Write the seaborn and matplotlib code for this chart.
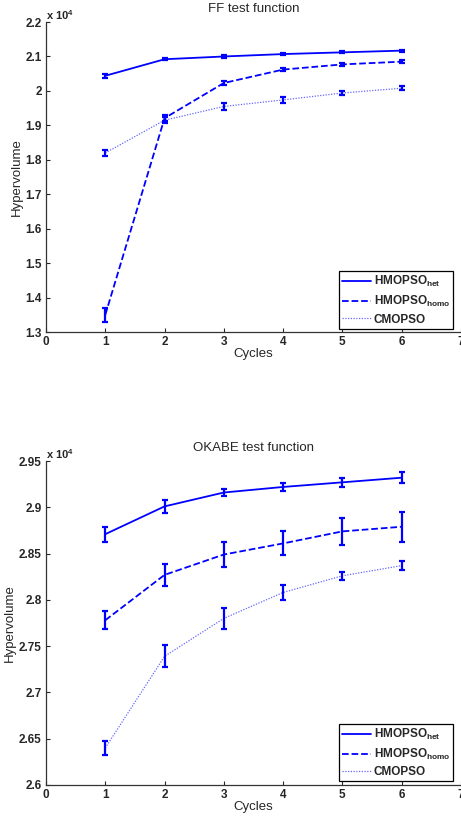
import numpy as np
import pandas as pd
import matplotlib
matplotlib.use("Agg")
import matplotlib.pyplot as plt
import seaborn as sns
from matplotlib.ticker import FuncFormatter

# Data (hypervolume, in units of 10^4)
cycles = [1, 2, 3, 4, 5, 6]
series_names = ["HMOPSO$_{het}$", "HMOPSO$_{homo}$", "CMOPSO"]

ff_het = [2.044, 2.092, 2.100, 2.107, 2.112, 2.117]
ff_het_err = [0.006, 0.003, 0.003, 0.003, 0.003, 0.003]
ff_homo = [1.350, 1.921, 2.023, 2.062, 2.077, 2.085]
ff_homo_err = [0.020, 0.008, 0.006, 0.005, 0.005, 0.005]
ff_cmopso = [1.820, 1.915, 1.955, 1.974, 1.994, 2.008]
ff_cmopso_err = [0.008, 0.008, 0.010, 0.008, 0.007, 0.006]

ok_het = [2.871, 2.901, 2.916, 2.922, 2.927, 2.932]
ok_het_err = [0.008, 0.007, 0.004, 0.004, 0.005, 0.006]
ok_homo = [2.778, 2.827, 2.849, 2.861, 2.874, 2.879]
ok_homo_err = [0.010, 0.012, 0.014, 0.013, 0.015, 0.016]
ok_cmopso = [2.640, 2.739, 2.780, 2.808, 2.826, 2.837]
ok_cmopso_err = [0.008, 0.012, 0.011, 0.008, 0.004, 0.005]

sns.set_style("ticks")
plt.rcParams['font.family'] = ['Liberation Sans', 'DejaVu Sans']
plt.rcParams['mathtext.default'] = 'regular'

styles = ['-', '--', (0, (1, 1.2))]
widths = [1.3, 1.3, 0.9]
alphas = [1.0, 1.0, 0.6]


def make_df(means, errs):
    rows = []
    for name, m, e in zip(series_names, means, errs):
        for c, v, er in zip(cycles, m, e):
            rows.append({'Cycles': c, 'Hypervolume': v, 'err': er, 'series': name})
    return pd.DataFrame(rows)


def draw_panel(ax, df, title, ylim, yticks):
    for i, name in enumerate(series_names):
        d = df[df['series'] == name]
        sns.lineplot(data=d, x='Cycles', y='Hypervolume', ax=ax, color='#0000ff',
                     linestyle=styles[i], linewidth=widths[i], alpha=alphas[i],
                     label=name)
        ax.errorbar(d['Cycles'], d['Hypervolume'], yerr=d['err'], fmt='none',
                    ecolor='#0000ff', elinewidth=1.6, capsize=2.5, capthick=1.6)
    ax.set_xlim(0, 7)
    ax.set_ylim(*ylim)
    ax.set_xticks(range(0, 8))
    ax.set_yticks(yticks)
    ax.yaxis.set_major_formatter(FuncFormatter(lambda v, p: '%g' % round(v, 3)))
    ax.tick_params(direction='in', length=3, width=0.8, labelsize=8.5, pad=3)
    for lbl in ax.get_xticklabels() + ax.get_yticklabels():
        lbl.set_fontweight('bold')
    for s in ['top', 'right']:
        ax.spines[s].set_visible(False)
    for s in ['left', 'bottom']:
        ax.spines[s].set_linewidth(0.9)
        ax.spines[s].set_color('#333333')
    ax.set_title(title, fontsize=9.5, pad=7)
    ax.set_xlabel('Cycles', fontsize=9.5, labelpad=0)
    ax.set_ylabel('Hypervolume', fontsize=9.5, labelpad=2)
    ax.text(0.0, 1.0, r'x 10$^{4}$', transform=ax.transAxes, fontsize=8,
            fontweight='bold', ha='left', va='bottom')
    leg = ax.legend(loc='lower right', bbox_to_anchor=(0.99, 0.0), fancybox=False,
                    framealpha=1, edgecolor='black', fontsize=8.5, handlelength=2.5,
                    borderpad=0.25, labelspacing=0.4, handletextpad=0.2,
                    borderaxespad=0.3)
    leg.get_frame().set_linewidth(0.9)
    for t in leg.get_texts():
        t.set_fontweight('bold')


fig = plt.figure(figsize=(4.61, 8.16), dpi=100)
ax1 = fig.add_axes([0.0998, 0.593, 0.900, 0.380])
ax2 = fig.add_axes([0.0998, 0.038, 0.900, 0.397])

df_ff = make_df([ff_het, ff_homo, ff_cmopso], [ff_het_err, ff_homo_err, ff_cmopso_err])
df_ok = make_df([ok_het, ok_homo, ok_cmopso], [ok_het_err, ok_homo_err, ok_cmopso_err])

draw_panel(ax1, df_ff, 'FF test function', (1.3, 2.2), np.arange(1.3, 2.21, 0.1))
draw_panel(ax2, df_ok, 'OKABE test function', (2.6, 2.95), np.arange(2.6, 2.951, 0.05))

plt.savefig('out.png', dpi=100)
plt.close()
